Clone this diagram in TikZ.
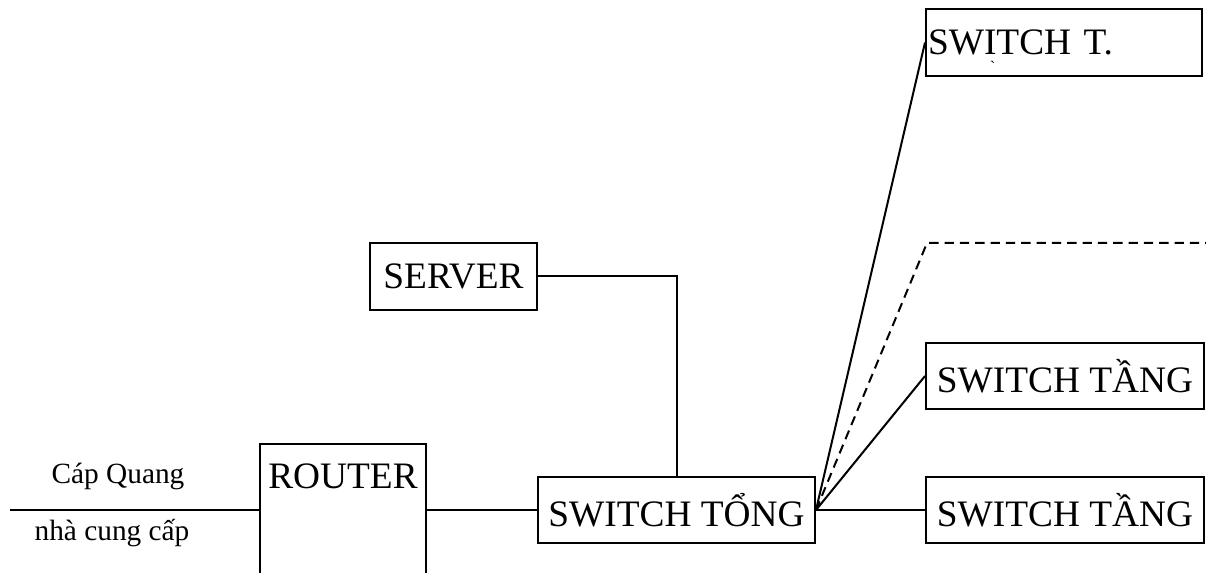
\documentclass[tikz,border=0pt]{standalone}
\usepackage{fontspec}
\setmainfont{Liberation Serif}
\usetikzlibrary{calc}

\tikzset{
  box/.style={draw, line width=1.5pt, inner sep=0pt, minimum height=50pt,
    font=\fontsize{28}{32}\selectfont},
  lbl/.style={inner sep=0pt, anchor=base, font=\fontsize{22}{26}\selectfont},
  link/.style={line width=1.5pt},
  dashlink/.style={line width=1.5pt, dash pattern=on 7pt off 4.5pt}
}

\begin{document}
\begin{tikzpicture}[x=0.75pt, y=-0.75pt]
    % Khung
    \clip (0,0) rectangle (1206,573);

    % Thiet bi
    \node[box, minimum width=125.25pt] (server) at (453.5,276.5) {SERVER};
    \node[box, minimum width=207.75pt] (tong) at (676.5,510) {SWITCH TỔNG};
    \node[box, anchor=north, minimum width=124.5pt, text height=18pt, text depth=140pt,
          inner ysep=15pt] (router) at (343,443) {ROUTER};
    \node[box, minimum width=208.5pt] (tang1) at (1065,510) {SWITCH TẦNG};
    \node[box, minimum width=208.5pt] (tang2) at (1065,376) {SWITCH TẦNG};
    \node[box, minimum width=207pt, text width=204pt, align=left] (tangT) at (1064,42.5) {SWITCH T.};
    \node[inner sep=0pt, anchor=base, font=\fontsize{12}{14}\selectfont] (dau) at (993,76) {\`{}};

    % Cap quang
    \coordinate (feed) at (10,510);
    \node[lbl] (capq) at (118,483) {Cáp Quang};
    \node[lbl] (ncc) at (112,540) {nhà cung cấp};
    \draw[link] (feed) -- (feed -| router.west);

    % Ket noi
    \draw[link] (tong.west -| router.east) -- (tong.west);
    \draw[link] (server.east) -| (tong.north);
    \draw[link] (tong.east) -- (tang1.west);
    \draw[link] (tong.east) -- (tang2.west);
    \draw[link] (tong.east) -- (tangT.west);

    % Nhanh du phong
    \coordinate (gap) at (927,243);
    \coordinate (gapend) at (1210,243);
    \draw[dashlink] (tong.east) -- (gap) -- (gapend);
\end{tikzpicture}
\end{document}
